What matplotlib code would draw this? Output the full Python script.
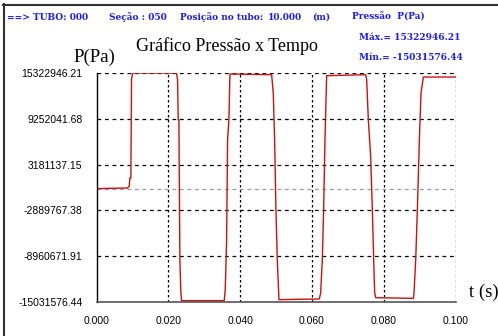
" grafico pressao x tempo "
import matplotlib
matplotlib.use("Agg")
import matplotlib.pyplot as plt
from matplotlib.lines import Line2D

P_MAX = 15322946.21
P_MIN = -15031576.44
y_ticks = [15322946.21, 9252041.68, 3181137.15, -2889767.38, -8960671.91, -15031576.44]
x_ticks = [0.0, 0.02, 0.04, 0.06, 0.08, 0.1]

# tempo [s]
t = [0.0, 0.00864, 0.0091, 0.00929, 0.00956, 0.00975, 0.01003,
     0.02228, 0.02256, 0.02275, 0.02293, 0.02321, 0.02349, 0.02368,
     0.03556, 0.03584, 0.03621, 0.03649, 0.03686, 0.03714,
     0.04875, 0.04921, 0.04958, 0.04995, 0.05032, 0.05079,
     0.06202, 0.06240, 0.06286, 0.06323, 0.06360, 0.06407,
     0.07493, 0.07521, 0.07567, 0.07632, 0.07679, 0.07716, 0.07744, 0.07772,
     0.08821, 0.08839, 0.08886, 0.08932, 0.08988, 0.09034, 0.09099, 0.09146,
     0.1]
# pressao [MPa]
p = [0.0, 0.08, 0.30, 1.40, 1.40, 14.44, 15.32,
     15.32, 14.44, 9.14, 9.14, -9.42, -13.84, -14.85,
     -14.85, -13.40, -7.0, 6.49, 9.14, 15.19,
     15.10, 12.67, 6.49, -2.79, -9.42, -14.72,
     -14.63, -13.84, -9.42, -2.79, 6.49, 14.97,
     15.10, 14.44, 9.14, 4.28, -2.79, -9.42, -13.84, -14.46,
     -14.55, -13.84, -9.42, -2.79, 6.49, 12.67, 14.79, 14.79,
     14.79]
p = [v * 1e6 for v in p]

fig = plt.figure(figsize=(4.98, 3.36), dpi=100)
ax = fig.add_axes([0.1938, 0.1012, 0.7213, 0.6815])

ax.plot(t, p, color="#cc1010", lw=1.0)
ax.set_xlim(0, 0.1)
ax.set_ylim(P_MIN, P_MAX)
ax.set_xticks(x_ticks)
ax.set_yticks(y_ticks)
ax.set_xticklabels(["%.3f" % v for v in x_ticks], family="Liberation Sans", fontsize=7.5)
ax.set_yticklabels(["%.2f" % v for v in y_ticks], family="Liberation Sans", fontsize=7.5)
ax.tick_params(length=0, pad=10)
ax.tick_params(axis="x", pad=10)

for v in y_ticks[1:-1] + [P_MAX]:
    ax.axhline(v, color="black", ls=(0, (3, 3)), lw=0.9, zorder=0)
for v in x_ticks[1:]:
    ax.axvline(v, color="black", ls=(0, (2, 2)), lw=0.9, zorder=0)
ax.axhline(0, color="#999999", ls=(0, (3, 3)), lw=0.9, zorder=0)

for s in ["top", "right"]:
    ax.spines[s].set_visible(False)
ax.spines["left"].set_color("black")
ax.spines["bottom"].set_color("#555555")
ax.spines["left"].set_linewidth(1.0)
ax.spines["bottom"].set_linewidth(1.2)

W, H = 498.0, 336.0
blue = "#1a1aff"
hdr = dict(color=blue, fontsize=6.5, fontweight="bold", family="DejaVu Serif", va="center")
fig.text(7 / W, 1 - 17 / H, "==> TUBO: 000", **hdr)
fig.text(109 / W, 1 - 17 / H, "Seção : 050", **hdr)
fig.text(180 / W, 1 - 17 / H, "Posição no tubo:", **hdr)
fig.text(268 / W, 1 - 17 / H, "10.000", **hdr)
fig.text(312 / W, 1 - 17 / H, "(m)", **hdr)
fig.text(352 / W, 1 - 17 / H, "Pressão  P(Pa)", **hdr)
fig.text(359 / W, 1 - 38 / H, "Máx.= 15322946.21", **hdr)
fig.text(359 / W, 1 - 58 / H, "Mín.= -15031576.44", **hdr)

fig.text(227 / W, 1 - 46 / H, "Gráfico Pressão x Tempo", ha="center", va="center",
         family="Liberation Serif", fontsize=13)
fig.text(94 / W, 1 - 57 / H, "P(Pa)", ha="center", va="center",
         family="Liberation Serif", fontsize=13.5)
fig.text(484 / W, 1 - 292 / H, "t (s)", ha="center", va="center",
         family="Liberation Serif", fontsize=13.5)

fig.add_artist(Line2D([3.5 / W, 3.5 / W], [0, 1 - 4 / H], color="#333333", lw=1.5,
                      transform=fig.transFigure))
fig.add_artist(Line2D([3 / W, 1], [1 - 4.5 / H, 1 - 4.5 / H], color="#333333", lw=1.5,
                      transform=fig.transFigure))

fig.savefig("out.png", dpi=100)
